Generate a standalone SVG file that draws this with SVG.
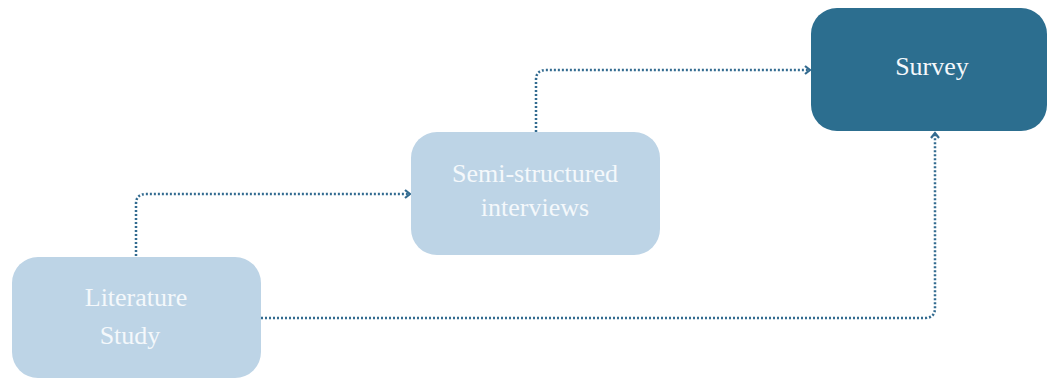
<svg xmlns="http://www.w3.org/2000/svg" width="1048" height="378" viewBox="0 0 1048 378">
  <defs>
    <style>
      .light { fill: #BDD4E6; }
      .dark { fill: #2C6E8F; }
      .lbl { font-family: "Liberation Serif", "Times New Roman", serif; font-size: 26px; fill: #F4F8FB; text-anchor: middle; }
      .conn { fill: none; stroke: #336B90; stroke-width: 2.5; stroke-dasharray: 2 2; }
    </style>
    <marker id="arr" viewBox="0 0 8 10" refX="6" refY="5" markerWidth="8" markerHeight="10" markerUnits="userSpaceOnUse" orient="auto">
      <path d="M1,1 L6,5 L1,9" fill="none" stroke="#336B90" stroke-width="2.2"/>
    </marker>
  </defs>
  <rect width="1048" height="378" fill="#FFFFFF"/>
  <g id="connectors">
    <path class="conn" d="M136,256 V204 Q136,194 146,194 H410" marker-end="url(#arr)"/>
    <path class="conn" d="M536,132 V80 Q536,70 546,70 H810" marker-end="url(#arr)"/>
    <path class="conn" d="M261,318 H925 Q935,318 935,308 V133" marker-end="url(#arr)"/>
  </g>
  <g id="literature-study">
    <rect class="light" x="12" y="257" width="249" height="121" rx="26" ry="26"/>
    <text class="lbl" x="136" y="306">Literature</text>
    <text class="lbl" x="130" y="344">Study</text>
  </g>
  <g id="semi-structured-interviews">
    <rect class="light" x="411" y="132" width="249" height="123" rx="26" ry="26"/>
    <text class="lbl" x="535" y="182">Semi-structured</text>
    <text class="lbl" x="535" y="216">interviews</text>
  </g>
  <g id="survey">
    <rect class="dark" x="811" y="8" width="236" height="123" rx="26" ry="26"/>
    <text class="lbl" x="932" y="75">Survey</text>
  </g>
</svg>
